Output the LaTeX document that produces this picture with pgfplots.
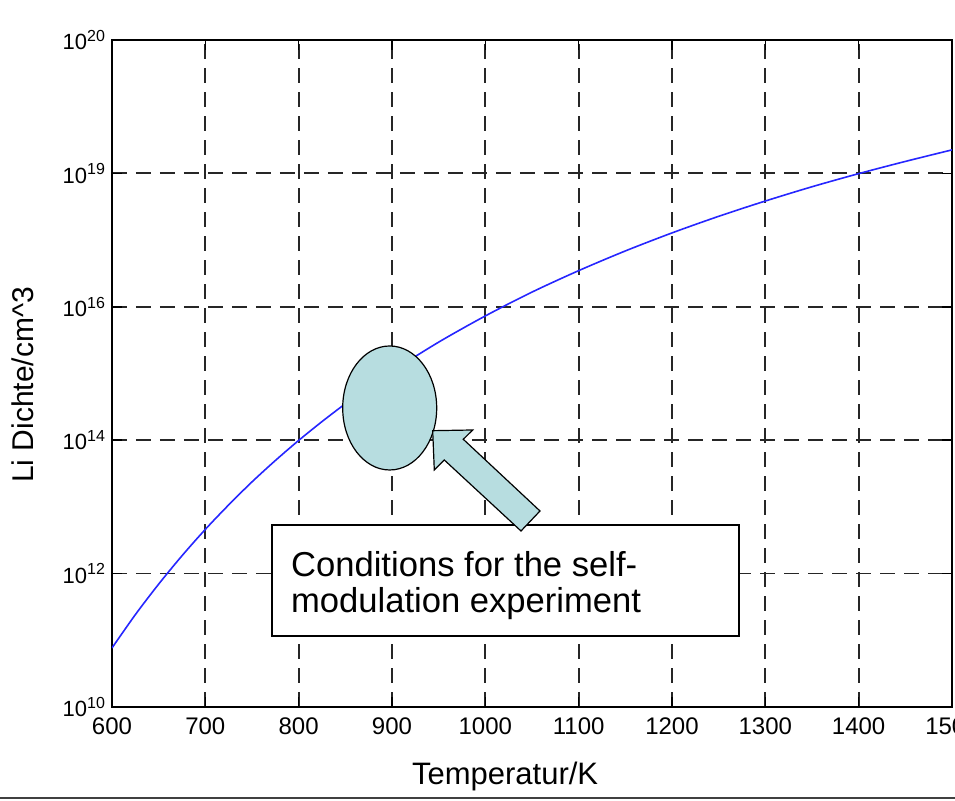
\documentclass[border=0pt]{standalone}
\usepackage{fontspec}
\setmainfont{Liberation Sans}
\usepackage{pgfplots}
\pgfplotsset{compat=1.18}
\definecolor{annofill}{RGB}{183,221,224}
\newcommand{\tl}[1]{10\raisebox{4.2pt}{\fontsize{8}{9}\selectfont #1}}
\begin{document}
\begin{tikzpicture}
\begin{axis}[
  scale only axis, width=420pt, height=333.5pt,
  xmin=600, xmax=1500, ymode=log, ymin=1e10, ymax=1e20,
  xtick={600,700,...,1500},
  ytick={1e10,1e12,1e14,1e16,1e18,1e20},
  yticklabels={\tl{10},\tl{12},\tl{14},\tl{16},\tl{19},\tl{20}},
  yminorticks=false,
  grid=major,
  major grid style={black!85, line width=0.9pt, dash pattern=on 7.5pt off 4.5pt},
  axis line style={black, line width=0.8pt},
  tick style={black, line width=0.8pt}, major tick length=5pt, tick align=inside,
  xticklabel style={font=\fontsize{12}{14}\selectfont, yshift=-2pt},
  yticklabel style={font=\fontsize{11}{13}\selectfont},
  /pgf/number format/assume math mode=true,
  /pgf/number format/1000 sep={},
  scaled x ticks=false,
  xlabel={Temperatur/K},
  ylabel={Li Dichte/cm\^{}3},
  xlabel style={at={(axis description cs:0.468,-0.1159)}, anchor=base, font=\fontsize{15.5}{18}\selectfont},
  ylabel style={at={(axis description cs:-0.0937,0.483)}, anchor=base, font=\fontsize{15}{18}\selectfont},
]
\addplot[blue!85!white, line width=0.8pt, smooth] coordinates {
 (600,7.67e10) (625,2.42e11) (650,6.95e11) (675,1.85e12) (700,4.60e12)
 (725,1.07e13) (750,2.37e13) (775,4.95e13) (800,9.91e13) (825,1.90e14)
 (850,3.51e14) (875,6.25e14) (900,1.08e15) (950,2.95e15) (1000,7.29e15) (1050,1.66e16)
 (1100,3.48e16) (1150,6.87e16) (1200,1.28e17) (1250,2.27e17) (1300,3.85e17)
 (1350,6.30e17) (1400,9.91e17) (1450,1.51e18) (1500,2.25e18)
};
\coordinate (bl) at (rel axis cs:0,0);
\end{axis}
\begin{scope}[shift={(bl)}]
\draw[fill=annofill, line width=0.6pt] (138.85pt,149.5pt) ellipse [x radius=23.5pt, y radius=31pt];
\draw[fill=white, line width=0.6pt] (80pt,35.5pt) rectangle (313.5pt,91pt);
\draw[fill=annofill, line width=0.6pt, line join=miter] (160.35pt,138.15pt) -- (180.35pt,138.5pt) -- (175.65pt,133.85pt) -- (214pt,98pt) -- (204.5pt,88pt) -- (166.15pt,123.5pt) -- (161.15pt,118.5pt) -- cycle;
\node[anchor=base west, inner sep=0pt, font=\fontsize{17.3}{18}\selectfont] at (89.35pt,65pt) {Conditions for the self-};
\node[anchor=base west, inner sep=0pt, font=\fontsize{17.3}{18}\selectfont] at (89.35pt,47pt) {modulation experiment};
\draw[black!75, line width=1pt] (-56pt,-45.75pt) -- (421.5pt,-45.75pt);
\end{scope}
\pgfresetboundingbox
\path (bl) ++(-56pt,-47pt) rectangle ++(477.5pt,400.5pt);
\end{tikzpicture}
\end{document}
